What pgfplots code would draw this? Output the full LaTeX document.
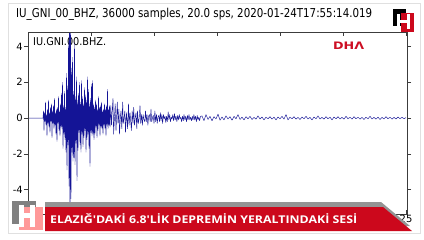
\documentclass[border=0pt]{standalone}
\usepackage{pgfplots}
\pgfplotsset{compat=1.18}
\usepackage{fontspec}
\setmainfont{DejaVu Sans}
\newfontfamily\bannerfont{Open Sans}
\definecolor{wave}{RGB}{20,20,150}
\definecolor{dhared}{RGB}{205,15,35}
\definecolor{banred}{RGB}{204,8,28}
\definecolor{axgray}{RGB}{60,60,60}
\begin{document}
\begin{tikzpicture}
\begin{scope}[x=1bp,y=-1bp]
\fill[white] (0,0) rectangle (424,240);
\useasboundingbox (0,0) rectangle (424,240);
\draw[black!12, line width=0.8bp] (8,3) rectangle (420,233);
\node[anchor=base west, inner sep=0] at (16,17.5) {\resizebox{356bp}{9.3bp}{IU\_GNI\_00\_BHZ, 36000 samples, 20.0 sps, 2020-01-24T17:55:14.019}};
\node[anchor=base west, inner sep=0] at (33,45) {\resizebox{73bp}{8bp}{IU.GNI.00.BHZ.}};
\node[anchor=base west, inner sep=0, text=dhared] at (333,49.5) {\resizebox{31bp}{7.5bp}{\bfseries DHΛ}};
\end{scope}
\begin{axis}[at={(28bp,-214bp)}, anchor=south west, width=379bp, height=182bp, scale only axis,
  xmin=28, xmax=407, ymin=-5.36, ymax=4.81,
  xtick=\empty, ytick={-4,-2,0,2,4}, yticklabels={-4,-2,0,2,4},
  tick align=outside, major tick length=4bp,
  axis line style={axgray, line width=0.6bp}, tick style={axgray, line width=0.6bp},
  yticklabel style={font=\fontsize{10}{10}\selectfont, inner sep=1bp},
  ]
\addplot[wave, line width=0.45bp, line join=round] coordinates {
(28,0) (43,0)
(43.5,0.4) (44,-0.7) (44.5,0.3) (45,-0.2) (45.5,0.9) (46,-0.4) (46.5,0.2) (47,-1.0) (47.5,0.5) (48,-0.3)
(48.5,1.0) (49,-0.5) (49.5,0.3) (50,-0.8) (50.5,0.6) (51,-0.2) (51.5,0.8) (52,-1.1) (52.5,0.4) (53,-0.3)
(53.5,0.7) (54,-0.6) (54.5,1.1) (55,-0.4) (55.5,0.3) (56,-0.9) (56.5,0.5) (57,-1.3) (57.5,0.6) (58,-0.3)
(58.5,1.2) (59,-0.7) (59.5,0.4) (60,-1.0) (60.5,0.8) (61,-0.5) (61.5,1.4) (62,-0.6) (62.5,2.0) (63,-1.7)
(63.5,0.7) (64,-0.9) (64.5,1.5) (65,-1.2) (65.5,0.6) (66,-1.9) (66.5,2.5) (67,-2.9) (67.5,1.8) (68,-1.5)
(68.5,4.3) (69,-3.8) (69.5,5.5) (70,-5.8) (70.5,5.2) (71,-4.5) (71.5,2.8) (72,-1.9) (72.5,3.4) (73,-2.4)
(73.5,1.5) (74,-2.2) (74.5,4.2) (75,-2.6) (75.5,1.2) (76,-1.4) (76.5,2.3) (77,-3.5) (77.5,1.0) (78,-1.8)
(78.5,1.4) (79,-0.8) (79.5,2.0) (80,-1.5) (80.5,0.9) (81,-1.9) (81.5,2.1) (82,-0.9) (82.5,1.2) (83,-1.6)
(83.5,0.8) (84,-1.1) (84.5,1.7) (85,-0.7) (85.5,1.3) (86,-1.9) (86.5,1.0) (87,-1.2) (87.5,2.3) (88,-0.9)
(88.5,1.6) (89,-1.7) (89.5,0.8) (90,-2.7) (90.5,1.1) (91,-0.8) (91.5,1.9) (92,-1.0) (92.5,2.1) (93,-0.9)
(93.5,0.8) (94,-1.2) (94.5,0.6) (95,-0.9) (95.5,1.0) (96,-0.5) (96.5,0.8) (97,-1.1) (97.5,0.5) (98,-0.7)
(98.5,1.2) (99,-0.4) (99.5,0.6) (100,-1.0) (100.5,0.7) (101,-0.5) (101.5,0.9) (102,-0.6) (102.5,0.4) (103,-0.9)
(103.5,0.5) (104,-0.4) (104.5,0.8) (105,-0.6) (105.5,0.5) (106,-1.0) (106.5,0.7) (107,-0.4) (107.5,1.6) (108,-0.6)
(108.5,0.5) (109,-0.4) (109.5,0.7) (110,-0.5)
(110.8,0.7) (111.5,-0.4) (112.1,0.3) (113,1.1) (113.6,-0.9) (114.5,0.1) (115.2,0.8) (116,-0.7) (116.5,-0.1) (117.3,0.9)
(118,-0.3) (118.9,0.5) (119.5,-0.9) (120.4,0.1) (121,0.4) (121.8,-0.6) (122.7,0.9) (123.2,-0.3) (124.1,0.0) (124.8,0.4)
(125.5,-0.8) (126.4,0.3) (127,-0.1) (127.6,-0.6) (128.5,0.8) (129.1,-0.4) (130,0.3) (130.6,-0.1) (131.4,-0.7) (132.2,0.4)
(133,-0.3) (133.7,0.6) (134.5,-0.4) (135.4,0.1) (136,0.3) (136.8,-0.6) (137.5,0.4) (138.3,-0.3) (139.2,0.0) (140,0.7)
(140.7,-0.3) (141.6,0.2) (142.4,-0.4) (143.1,0.2) (144,-0.1) (144.8,-0.2) (145.5,0.4) (146.3,-0.2) (147,0.2) (147.9,-0.4)
(148.6,0.1) (149.4,0.2) (150.2,-0.2) (151,0.5) (151.7,-0.2) (152.6,0.05) (153.3,0.15) (154,-0.3) (154.9,0.4) (155.6,-0.2)
(156.5,0.2) (157.2,-0.3) (158,0.05) (158.8,0.15) (159.5,-0.2) (160.4,0.3) (161,-0.15) (161.9,0.2) (162.6,-0.3) (163.4,0.2)
(164.2,-0.05) (165,0.1) (165.8,-0.25) (166.5,0.1) (167.3,-0.2) (168.2,0.35) (168.9,-0.1) (169.7,0.2) (170.5,-0.2) (171.3,0.05)
(172,-0.05) (172.8,0.2) (173.6,-0.15) (174.5,0.25) (175.2,-0.1) (176,0.1) (176.9,-0.2) (177.6,0.15) (178.4,-0.1) (179.3,0.2)
(180,-0.05) (180.8,0.05) (181.6,-0.2) (182.5,0.1) (183.3,-0.15) (184,0.2) (184.9,-0.1) (185.7,0.1) (186.5,-0.2) (187.4,0.15)
(188.1,-0.1) (189,0.2) (189.8,-0.1) (190.6,0.05) (191.5,-0.15) (192.3,0.1) (193,-0.1) (193.9,0.2) (194.7,-0.1) (195.5,0.1)
(196.4,-0.2) (197.2,0.15) (198,-0.1) (198.8,0.05) (199.6,-0.15) (200.5,0.1)
(202,0.12) (204,-0.15) (206,0.2) (208,-0.08) (210,0.1) (212,-0.15) (214,0.08) (216,-0.05) (218,0.22) (220,-0.12)
(222,0.06) (224,-0.1) (226,0.12) (228,-0.05) (230,0.08) (232,-0.12) (234,0.1) (236,-0.04) (238,0.2) (240,-0.08)
(242,0.05) (244,-0.1) (246,0.08) (248,-0.04) (250,0.1) (252,-0.08) (254,0.04) (256,-0.06) (258,0.12) (260,-0.05)
(262,0.06) (264,-0.1) (266,0.05) (268,-0.04) (270,0.08) (272,-0.06) (274,0.05) (276,-0.1) (278,0.06) (280,-0.04)
(282,0.1) (284,-0.06) (286,0.2) (288,-0.1) (290,0.05) (292,-0.04) (294,0.08) (296,-0.06) (298,0.04) (300,-0.08)
(302,0.06) (304,-0.04) (306,0.1) (308,-0.05) (310,0.04) (312,-0.1) (314,0.06) (316,-0.04) (318,0.12) (320,-0.05)
(322,0.04) (324,-0.06) (326,0.08) (328,-0.04) (330,0.05) (332,-0.1) (334,0.06) (336,-0.04) (338,0.08) (340,-0.05)
(342,0.04) (344,-0.06) (346,0.1) (348,-0.04) (350,0.05) (352,-0.06) (354,0.08) (356,-0.04) (358,0.05) (360,-0.06)
(362,0.04) (364,-0.08) (366,0.05) (368,-0.04) (370,0.1) (372,-0.05) (374,0.04) (376,-0.06) (378,0.05) (380,-0.08)
(382,0.04) (384,-0.05) (386,0.08) (388,-0.04) (390,0.05) (392,-0.06) (394,0.04) (396,-0.05) (398,0.06) (400,-0.04)
(402,0.05) (404,-0.04) (406,0.03)
};
\end{axis}
\begin{axis}[at={(28bp,-214bp)}, anchor=south west, width=379bp, height=182bp, scale only axis,
  xmin=28, xmax=407, ymin=-5.36, ymax=4.81,
  xtick={28,91,154,217,280,343,406}, xticklabels={20.,,,,,,25}, ytick=\empty,
  tick align=inside, major tick length=4bp,
  axis line style={axgray, line width=0.6bp}, tick style={axgray, line width=0.6bp},
  xticklabel style={font=\fontsize{10}{10}\selectfont, inner sep=1bp},
  ]
\end{axis}
\begin{scope}[x=1bp,y=-1bp]
% banner
\fill[black!42] (45,202) -- (381,202) -- (410,226) -- (45,226) -- cycle;
\fill[banred] (45,207) -- (383,207) -- (412,231) -- (45,231) -- cycle;
\node[anchor=base west, inner sep=0, text=white] at (50,223.5) {\resizebox{307bp}{10bp}{\bannerfont\bfseries ELAZIĞ\textquotesingle DAKİ 6.8\textquotesingle LİK DEPREMİN YERALTINDAKİ SESİ}};
% bottom-left logo
\fill[black!50] (12,201) rectangle (36,222);
\fill[red!40] (19,207) rectangle (43,230);
\fill[black!50] (12,201) rectangle (19,224);
\fill[white] (19,205) rectangle (24,227);
\fill[white] (30,205) rectangle (35,227);
\fill[white] (24,213) rectangle (30,218);
% top-right logo
\fill[black] (393,9) rectangle (406,26);
\fill[banred] (401,13) rectangle (414,32);
\fill[white] (397,14) rectangle (400,29);
\fill[white] (407,14) rectangle (410,29);
\fill[white] (400,20) rectangle (407,23);
\end{scope}
\end{tikzpicture}
\end{document}
